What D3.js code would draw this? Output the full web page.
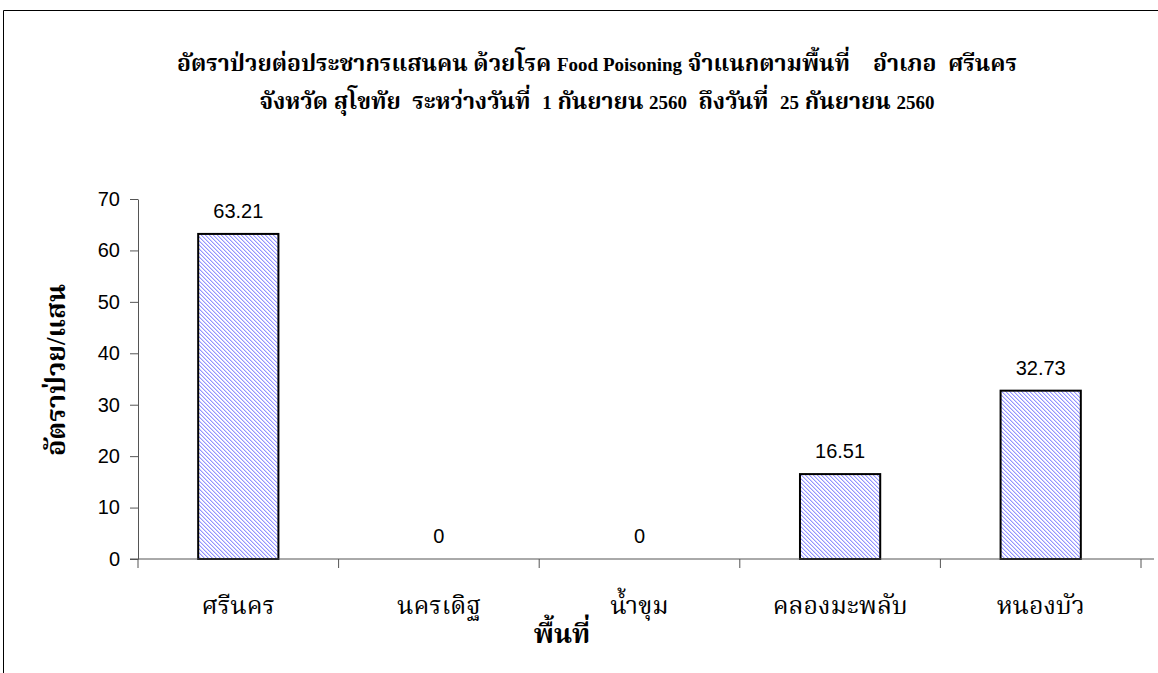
<!DOCTYPE html>
<html>
<head>
<meta charset="utf-8">
<script src="https://cdn.jsdelivr.net/npm/d3@7"></script>
<style>
  body { margin: 0; background: #fff; }
  .title { font-family: "Liberation Serif", "Noto Serif Thai", "Noto Sans Thai", serif; font-weight: bold; font-size: 23px; white-space: pre; }
  .latin { font-size: 19px; }
  .num { font-family: "Liberation Sans", Arial, sans-serif; font-size: 20px; fill: #000; }
  .cat { font-family: "Liberation Serif", "Noto Serif Thai", "Noto Sans Thai", serif; font-size: 25px; fill: #000; }
  .axt { font-family: "Liberation Serif", "Noto Serif Thai", "Noto Sans Thai", serif; font-weight: bold; font-size: 27px; }
</style>
</head>
<body>
<div id="vis"></div>
<script>
// frame + plot area
const FRAME_WIDTH = 1158;
const FRAME_HEIGHT = 673;
const MARGINS = {left: 138, right: 17, top: 199, bottom: 114};

// data
const areas = ["ศรีนคร", "นครเดิฐ", "น้ำขุม", "คลองมะพลับ", "หนองบัว"];
const rates = [63.21, 0, 0, 16.51, 32.73];
const yTicks = [0, 10, 20, 30, 40, 50, 60, 70];
const titleLines = [
  "อัตราป่วยต่อประชากรแสนคน ด้วยโรค Food Poisoning จำแนกตามพื้นที่    อำเภอ  ศรีนคร",
  "จังหวัด สุโขทัย  ระหว่างวันที่  1 กันยายน 2560  ถึงวันที่  25 กันยายน 2560"
];

const svg = d3.select("#vis")
  .append("svg")
    .attr("width", FRAME_WIDTH)
    .attr("height", FRAME_HEIGHT);

// hatch fill for bars: pixel diagonal stripes, 4px period
const pat = svg.append("defs").append("pattern")
    .attr("id", "hatch")
    .attr("patternUnits", "userSpaceOnUse")
    .attr("x", MARGINS.left).attr("y", MARGINS.top)
    .attr("width", 4)
    .attr("height", 4);
pat.append("rect").attr("width", 4).attr("height", 4).attr("fill", "#fff");
[0, 1, 2, 3].forEach(i => {
  pat.append("rect").attr("x", i).attr("y", i).attr("width", 1).attr("height", 1)
      .attr("fill", "#9494ff").attr("shape-rendering", "crispEdges");
  pat.append("rect").attr("x", (i + 1) % 4).attr("y", i).attr("width", 1).attr("height", 1)
      .attr("fill", "#d2d2ff").attr("shape-rendering", "crispEdges");
});

// outer frame (left + top edges)
svg.append("path")
    .attr("d", "M3.5," + FRAME_HEIGHT + " V10.5 H" + FRAME_WIDTH)
    .attr("fill", "none")
    .attr("stroke", "#000")
    .attr("stroke-width", 1);

// title: latin words/numbers are set a bit smaller than the thai text
const titles = svg.selectAll(".title")
  .data(titleLines)
  .enter()
  .append("text")
    .attr("class", "title")
    .attr("x", 597)
    .attr("y", (d, i) => 71 + i * 38)
    .attr("text-anchor", "middle");
titles.selectAll("tspan")
  .data(d => d.split(/([A-Za-z0-9]+(?: [A-Za-z0-9]+)*)/).filter(s => s.length))
  .enter()
  .append("tspan")
    .attr("class", s => /[A-Za-z0-9]/.test(s) ? "latin" : null)
    .text(s => s);

const X_SCALE = d3.scaleBand()
    .domain(areas)
    .range([0, 1003])
    .padding(0);

const Y_SCALE = d3.scaleLinear()
    .domain([0, 70])
    .range([360, 0]);

const g = svg.append("g")
    .attr("transform", "translate(" + MARGINS.left + "," + MARGINS.top + ")");

// bars
const barW = X_SCALE.bandwidth() * 0.4;
g.selectAll(".bar")
  .data(areas.map((a, i) => ({area: a, rate: rates[i]})).filter(d => d.rate > 0))
  .enter()
  .append("rect")
    .attr("x", d => X_SCALE(d.area) + (X_SCALE.bandwidth() - barW) / 2)
    .attr("y", d => Y_SCALE(d.rate))
    .attr("width", barW)
    .attr("height", d => Y_SCALE(0) - Y_SCALE(d.rate))
    .attr("fill", "url(#hatch)")
    .attr("stroke", "#000")
    .attr("stroke-width", 2);

// value labels
g.selectAll(".val")
  .data(rates)
  .enter()
  .append("text")
    .attr("class", "num")
    .attr("x", (d, i) => X_SCALE(areas[i]) + X_SCALE.bandwidth() / 2)
    .attr("y", d => Y_SCALE(d) - 16)
    .attr("text-anchor", "middle")
    .text(d => d);

// y axis
const yAxis = g.append("g")
    .call(d3.axisLeft(Y_SCALE).tickValues(yTicks).tickSize(8).tickSizeOuter(0).tickPadding(10));
yAxis.selectAll("text").attr("class", "num").attr("font-size", null).attr("font-family", null);
yAxis.selectAll("line, path").attr("stroke", "#555");

// x axis (ticks between categories)
g.append("line")
    .attr("x1", -8).attr("x2", 1016)
    .attr("y1", Y_SCALE(0)).attr("y2", Y_SCALE(0))
    .attr("stroke", "#555");
g.selectAll(".xtick")
  .data(areas.concat(["end"]))
  .enter()
  .append("line")
    .attr("x1", (d, i) => i * X_SCALE.step())
    .attr("x2", (d, i) => i * X_SCALE.step())
    .attr("y1", Y_SCALE(0))
    .attr("y2", Y_SCALE(0) + 9)
    .attr("stroke", "#555");

g.selectAll(".cat")
  .data(areas)
  .enter()
  .append("text")
    .attr("class", "cat")
    .attr("x", d => X_SCALE(d) + X_SCALE.bandwidth() / 2)
    .attr("y", 415)
    .attr("text-anchor", "middle")
    .text(d => d);

// axis titles
svg.append("text")
    .attr("class", "axt")
    .attr("x", 562)
    .attr("y", 643)
    .attr("text-anchor", "middle")
    .text("พื้นที่");

svg.append("text")
    .attr("class", "axt")
    .attr("transform", "translate(65,370) rotate(-90)")
    .attr("text-anchor", "middle")
    .text("อัตราป่วย/แสน");
</script>
</body>
</html>
